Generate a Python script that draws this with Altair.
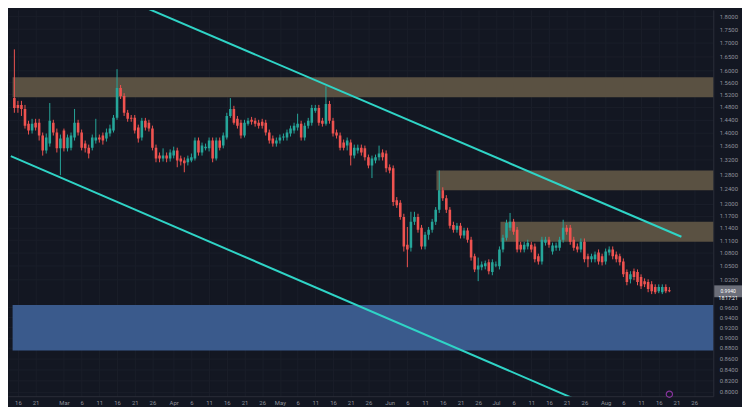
import altair as alt
import pandas as pd

START = "2022-02-15"

opens = [1.508,1.486,1.486,1.473,1.427,1.406,1.430,1.430,1.391,1.347,
         1.367,1.430,1.400,1.353,1.406,1.353,1.355,1.385,1.430,1.400,
         1.367,1.355,1.355,1.376,1.385,1.391,1.382,1.397,1.406,1.445,
         1.541,1.515,1.461,1.445,1.445,1.415,1.385,1.436,1.430,1.412,
         1.355,1.332,1.324,1.332,1.324,1.332,1.347,1.324,1.318,1.313,
         1.318,1.324,1.376,1.341,1.353,1.353,1.376,1.324,1.376,1.361,
         1.385,1.451,1.473,1.442,1.430,1.391,1.427,1.439,1.436,1.430,
         1.433,1.430,1.400,1.382,1.367,1.376,1.385,1.385,1.397,1.406,
         1.415,1.427,1.385,1.421,1.430,1.467,1.476,1.436,1.427,1.489,
         1.436,1.400,1.391,1.370,1.361,1.370,1.332,1.347,1.355,1.353,
         1.327,1.304,1.318,1.327,1.341,1.338,1.299,1.296,1.210,1.203,
         1.167,1.099,1.092,1.155,1.167,1.140,1.095,1.123,1.135,1.155,
         1.185,1.236,1.215,1.185,1.147,1.135,1.145,1.121,1.133,1.111,
         1.072,1.042,1.047,1.049,1.058,1.036,1.051,1.049,1.088,1.116,
         1.140,1.155,1.135,1.099,1.088,1.095,1.099,1.095,1.072,1.060,
         1.104,1.111,1.083,1.092,1.092,1.111,1.140,1.140,1.111,1.095,
         1.088,1.106,1.072,1.065,1.065,1.081,1.072,1.060,1.081,1.088,
         1.076,1.072,1.060,1.036,1.020,1.038,1.036,1.025,1.016,1.014,
         1.009,1.003,0.994,0.992,1.003,0.996]

closes = [1.476,1.476,1.473,1.421,1.406,1.427,1.415,1.391,1.347,1.385,
          1.436,1.400,1.353,1.382,1.353,1.385,1.391,1.430,1.400,1.355,
          1.353,1.338,1.385,1.385,1.379,1.376,1.400,1.412,1.445,1.541,
          1.515,1.461,1.442,1.442,1.406,1.382,1.436,1.415,1.412,1.355,
          1.324,1.324,1.332,1.324,1.341,1.347,1.318,1.315,1.310,1.324,
          1.327,1.376,1.341,1.361,1.358,1.376,1.324,1.376,1.355,1.391,
          1.451,1.473,1.430,1.421,1.391,1.430,1.436,1.433,1.427,1.421,
          1.421,1.400,1.376,1.367,1.376,1.385,1.388,1.400,1.412,1.421,
          1.427,1.385,1.421,1.436,1.476,1.476,1.430,1.427,1.489,1.436,
          1.397,1.391,1.355,1.355,1.376,1.332,1.355,1.355,1.341,1.327,
          1.304,1.324,1.327,1.338,1.327,1.296,1.290,1.205,1.197,1.167,
          1.095,1.088,1.155,1.167,1.135,1.095,1.123,1.135,1.155,1.185,
          1.236,1.215,1.185,1.145,1.135,1.145,1.121,1.133,1.111,1.069,
          1.042,1.051,1.053,1.056,1.038,1.058,1.053,1.088,1.116,1.152,
          1.155,1.130,1.088,1.088,1.099,1.104,1.088,1.065,1.060,1.111,
          1.111,1.099,1.097,1.097,1.111,1.140,1.130,1.106,1.092,1.088,
          1.106,1.065,1.065,1.072,1.076,1.060,1.058,1.083,1.088,1.072,
          1.065,1.058,1.031,1.014,1.031,1.025,1.014,1.005,1.009,0.999,
          0.994,0.992,1.003,1.003,0.994,0.994]

highs = [1.675,1.499,1.499,1.486,1.436,1.442,1.442,1.442,1.400,1.397,
         1.492,1.439,1.412,1.394,1.412,1.394,1.400,1.473,1.439,1.409,
         1.376,1.364,1.394,1.442,1.394,1.400,1.412,1.424,1.454,1.605,
         1.551,1.524,1.470,1.454,1.454,1.424,1.445,1.445,1.439,1.421,
         1.364,1.341,1.353,1.341,1.350,1.358,1.355,1.332,1.327,1.332,
         1.338,1.385,1.385,1.370,1.367,1.385,1.385,1.385,1.385,1.400,
         1.461,1.508,1.483,1.451,1.439,1.439,1.445,1.448,1.445,1.439,
         1.442,1.439,1.409,1.391,1.385,1.394,1.397,1.409,1.421,1.430,
         1.458,1.436,1.430,1.445,1.486,1.486,1.486,1.445,1.547,1.499,
         1.445,1.409,1.400,1.379,1.385,1.379,1.364,1.364,1.364,1.361,
         1.335,1.332,1.335,1.361,1.350,1.347,1.307,1.304,1.218,1.210,
         1.175,1.142,1.180,1.180,1.175,1.147,1.130,1.142,1.162,1.192,
         1.290,1.244,1.223,1.192,1.155,1.152,1.152,1.140,1.140,1.118,
         1.078,1.069,1.060,1.062,1.065,1.065,1.060,1.095,1.123,1.160,
         1.177,1.162,1.142,1.106,1.106,1.111,1.106,1.102,1.078,1.118,
         1.118,1.118,1.104,1.104,1.118,1.160,1.147,1.147,1.118,1.102,
         1.114,1.114,1.078,1.078,1.083,1.088,1.078,1.090,1.095,1.095,
         1.083,1.078,1.067,1.042,1.038,1.044,1.042,1.031,1.022,1.020,
         1.016,1.009,1.009,1.009,1.009,1.003]

lows = [1.461,1.461,1.451,1.412,1.394,1.397,1.406,1.376,1.332,1.338,
        1.358,1.391,1.341,1.277,1.344,1.344,1.347,1.376,1.391,1.347,
        1.341,1.324,1.347,1.367,1.370,1.364,1.373,1.388,1.400,1.439,
        1.505,1.451,1.433,1.433,1.397,1.370,1.376,1.406,1.403,1.347,
        1.313,1.313,1.315,1.313,1.315,1.324,1.299,1.304,1.285,1.304,
        1.313,1.318,1.332,1.332,1.347,1.344,1.313,1.318,1.347,1.353,
        1.379,1.445,1.424,1.412,1.382,1.385,1.421,1.424,1.418,1.412,
        1.412,1.391,1.367,1.358,1.358,1.367,1.376,1.376,1.388,1.397,
        1.406,1.376,1.376,1.412,1.421,1.461,1.421,1.418,1.421,1.427,
        1.388,1.382,1.347,1.347,1.347,1.304,1.324,1.338,1.332,1.318,
        1.296,1.269,1.310,1.318,1.318,1.285,1.282,1.195,1.190,1.160,
        1.083,1.047,1.083,1.147,1.128,1.088,1.088,1.111,1.128,1.147,
        1.177,1.208,1.177,1.138,1.128,1.128,1.114,1.114,1.104,1.062,
        1.036,1.016,1.040,1.042,1.031,1.029,1.047,1.042,1.081,1.109,
        1.133,1.123,1.081,1.081,1.081,1.088,1.081,1.058,1.053,1.053,
        1.097,1.092,1.076,1.085,1.085,1.104,1.123,1.099,1.085,1.081,
        1.081,1.058,1.047,1.058,1.058,1.053,1.051,1.053,1.074,1.065,
        1.058,1.051,1.025,1.007,1.011,1.018,1.007,0.999,1.003,0.992,
        0.988,0.988,0.990,0.988,0.990,0.992]

dates = pd.date_range(START, periods=len(closes), freq="D").strftime("%Y-%m-%d").tolist()

# supply / demand zones
zone_start = ["2022-02-14T12:00:00Z", "2022-06-14T05:00:00Z", "2022-07-02T07:00:00Z", "2022-02-14T12:00:00Z"]
zone_end = ["2022-09-10T00:00:00Z"] * 4
zone_low = [1.511, 1.236, 1.106, 0.875]
zone_high = [1.577, 1.290, 1.155, 0.965]
zone_fill = ["#5a5142", "#5a5142", "#5a5142", "#3a5a8c"]

# descending channel lines
line_id = ["upper", "upper", "lower", "lower"]
line_date = ["2022-03-17T00:00:00Z", "2022-08-22T09:36:00Z", "2022-02-14T00:00:00Z", "2022-07-25T00:00:00Z"]
line_price = [1.8755, 1.1182, 1.3307, 0.7834]

tick_dates = ["2022-02-16", "2022-02-21", "2022-03-01", "2022-03-06", "2022-03-11", "2022-03-16",
              "2022-03-21", "2022-03-26", "2022-04-01", "2022-04-06", "2022-04-11", "2022-04-16",
              "2022-04-21", "2022-04-26", "2022-05-01", "2022-05-06", "2022-05-11", "2022-05-16",
              "2022-05-21", "2022-05-26", "2022-06-01", "2022-06-06", "2022-06-11", "2022-06-16",
              "2022-06-21", "2022-06-26", "2022-07-01", "2022-07-06", "2022-07-11", "2022-07-16",
              "2022-07-21", "2022-07-26", "2022-08-01", "2022-08-06", "2022-08-11", "2022-08-16",
              "2022-08-21", "2022-08-26"]
price_ticks = [1.80, 1.75, 1.70, 1.65, 1.60, 1.56, 1.52, 1.48, 1.44, 1.40, 1.36, 1.32, 1.28,
               1.24, 1.20, 1.17, 1.14, 1.11, 1.08, 1.05, 1.02, 0.96, 0.94, 0.92, 0.90, 0.88,
               0.86, 0.84, 0.82, 0.80]

BG = "#131722"
UP = "#26a69a"
DOWN = "#ef5350"
CYAN = "#2fd4c6"
GRID = "#1a1e29"
LBL = "#8f929b"
FONT = "Roboto"

candles = pd.DataFrame({"date": dates, "open": opens, "high": highs, "low": lows, "close": closes})
candles["dir"] = ["up" if c >= o else "down" for o, c in zip(opens, closes)]
zones = pd.DataFrame({"start": zone_start, "end": zone_end, "low": zone_low, "high": zone_high, "fill": zone_fill})
lines = pd.DataFrame({"id": line_id, "date": line_date, "price": line_price})
last = pd.DataFrame({"price": [closes[-1]], "label": [f"{closes[-1]:.4f}\n18:17:21"]})
icon = pd.DataFrame({"date": ["2022-08-19"]})


def dt(s):
    y, m, d = s.split("-")
    return alt.DateTime(year=int(y), month=int(m), date=int(d), utc=True)


x_scale = alt.Scale(type="utc", nice=False,
                    domain=[alt.DateTime(year=2022, month=2, date=14, hours=14, minutes=24, utc=True),
                            alt.DateTime(year=2022, month=8, date=30, utc=True)])
y_scale = alt.Scale(type="log", domain=[0.7927, 1.824], nice=False, zero=False)

x_axis = alt.Axis(values=[dt(s) for s in tick_dates], title=None, grid=True, gridColor=GRID,
                  ticks=False, domainColor="#2a2e39", labelColor=LBL, labelFontSize=6,
                  labelFont=FONT, labelPadding=3, labelOverlap=False, labelFlush=False,
                  labelExpr="utcFormat(datum.value, '%d') == '01' ? utcFormat(datum.value, '%b') : utcFormat(datum.value, '%-d')")
y_axis = alt.Axis(orient="right", values=price_ticks, format=".4f", title=None, grid=True,
                  gridColor=GRID, ticks=False, domainColor="#2a2e39", labelColor=LBL,
                  labelFontSize=6, labelFont=FONT, labelPadding=6, labelOverlap=False,
                  labelFlush=False)

zone_layer = alt.Chart(zones).mark_rect(clip=True).encode(
    x=alt.X("start:T", scale=x_scale, axis=x_axis),
    x2="end:T",
    y=alt.Y("low:Q", scale=y_scale, axis=y_axis),
    y2="high:Q",
    color=alt.Color("fill:N", scale=None),
)

dir_color = alt.Color("dir:N", scale=alt.Scale(domain=["up", "down"], range=[UP, DOWN]), legend=None)

wick_layer = alt.Chart(candles).mark_rule(strokeWidth=1, clip=True).encode(
    x=alt.X("date:T", scale=x_scale, axis=x_axis),
    y=alt.Y("low:Q", scale=y_scale, axis=y_axis),
    y2="high:Q",
    color=dir_color,
)

body_layer = alt.Chart(candles).mark_bar(size=2.6, clip=True).encode(
    x=alt.X("date:T", scale=x_scale, axis=x_axis),
    y=alt.Y("open:Q", scale=y_scale, axis=y_axis),
    y2="close:Q",
    color=dir_color,
)

line_layer = alt.Chart(lines).mark_line(strokeWidth=2, color=CYAN, clip=True).encode(
    x=alt.X("date:T", scale=x_scale, axis=x_axis),
    y=alt.Y("price:Q", scale=y_scale, axis=y_axis),
    detail="id:N",
)

box_layer = alt.Chart(last).mark_tick(orient="horizontal", size=28, thickness=12, color="#6b6e79", opacity=1).encode(
    x=alt.value(727),
    y=alt.Y("price:Q", scale=y_scale, axis=y_axis),
)

box_text = alt.Chart(last).mark_text(fontSize=5, color="#ffffff", font=FONT, lineBreak="\n",
                                     align="center", baseline="middle").encode(
    x=alt.value(727),
    y=alt.Y("price:Q", scale=y_scale, axis=y_axis),
    text="label:N",
)

icon_layer = alt.Chart(icon).mark_point(shape="circle", size=40, filled=False, strokeWidth=1.2,
                                        color="#b73fd0").encode(
    x=alt.X("date:T", scale=x_scale, axis=x_axis),
    y=alt.value(388),
)

chart = alt.layer(zone_layer, wick_layer, body_layer, line_layer, box_layer, box_text, icon_layer).properties(
    width=712, height=390, padding=0, background=BG
).configure_view(stroke=None).configure_axis(labelOverlap=False)

chart.save("out.html", embed_options={"renderer": "svg", "actions": False})
